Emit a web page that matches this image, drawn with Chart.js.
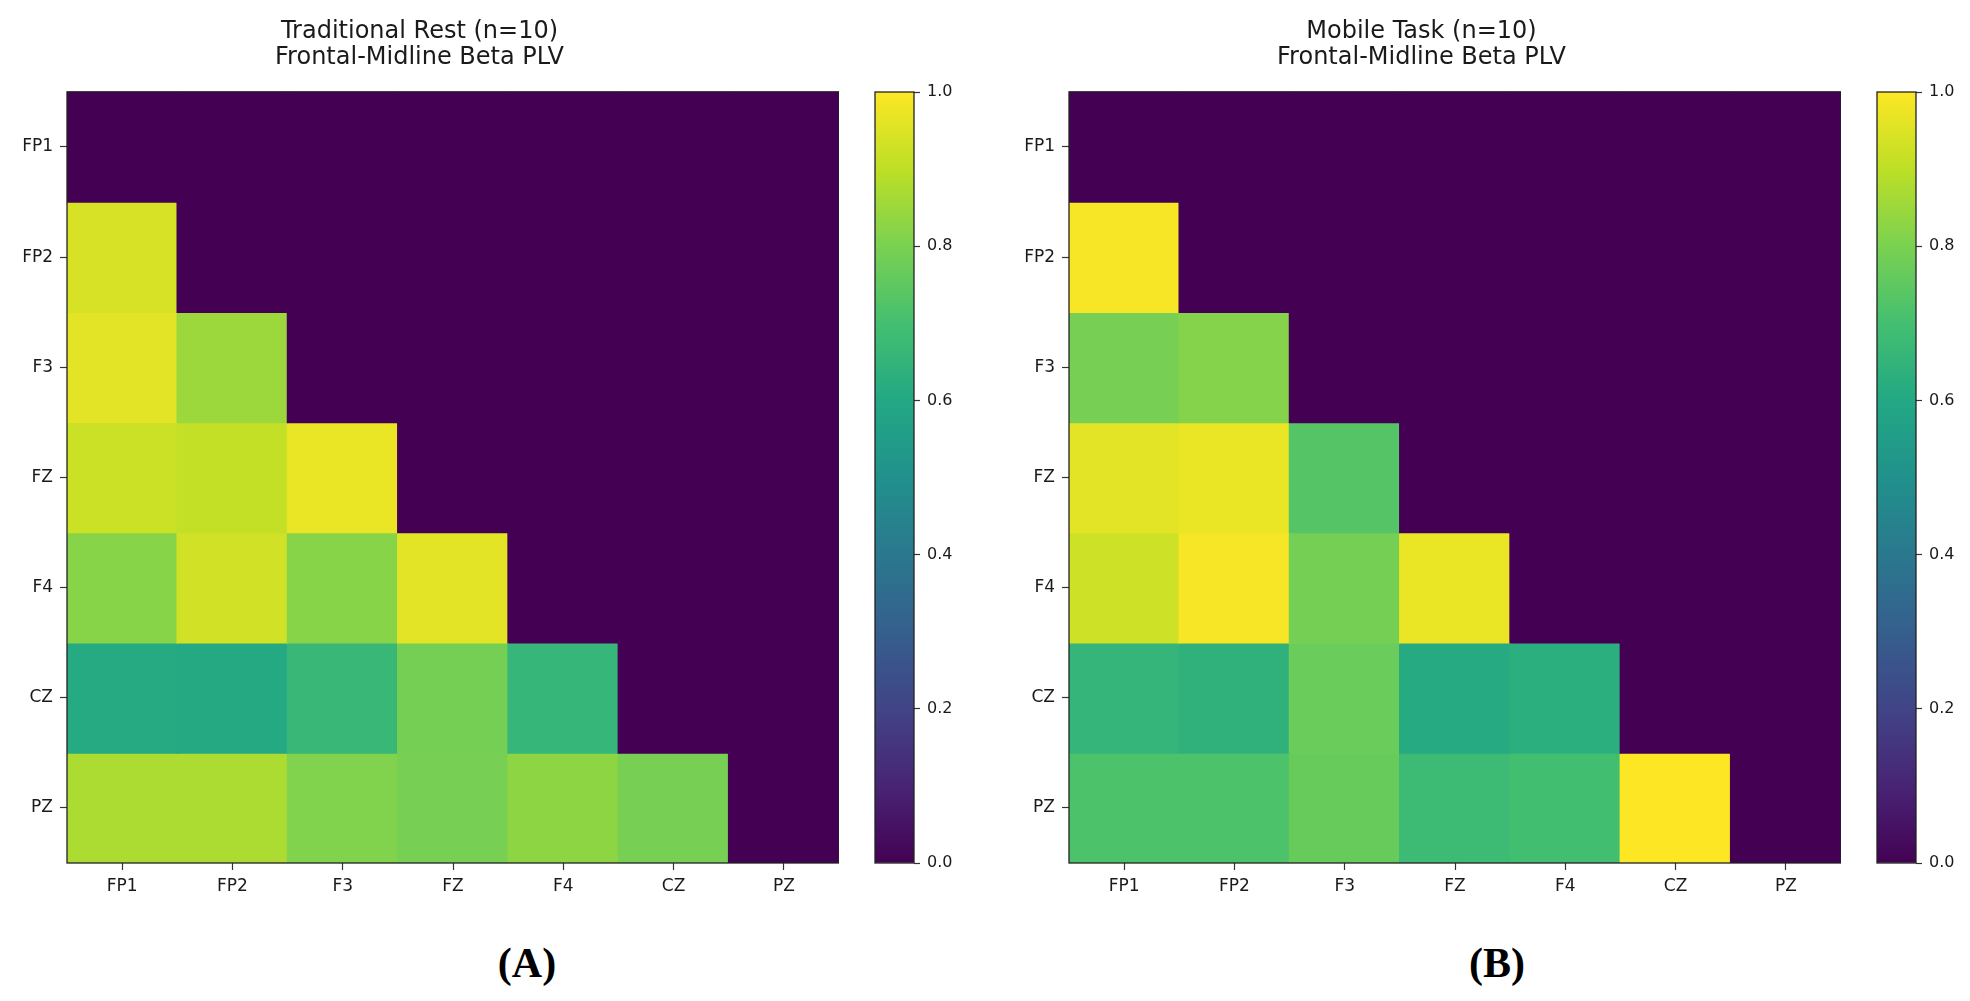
<!DOCTYPE html>
<html>
<head>
<meta charset="utf-8">
<script src="https://cdn.jsdelivr.net/npm/chart.js@4.4.1/dist/chart.umd.min.js"></script>
<style>
  html, body { margin: 0; padding: 0; background: #fff; }
  body { width: 1970px; height: 1001px; position: relative; overflow: hidden; }
  canvas { position: absolute; top: 0; }
  .panel { position: absolute; top: 938px; width: 120px; margin-left: -60px; text-align: center;
           font-family: "Liberation Serif", serif; font-weight: bold; font-size: 42px; color: #000; line-height: 50px; }
</style>
</head>
<body>
<canvas id="restMap" width="839" height="920" style="left:0px"></canvas>
<canvas id="restBar" width="108" height="920" style="left:860px"></canvas>
<canvas id="mobileMap" width="839" height="920" style="left:1002px"></canvas>
<canvas id="mobileBar" width="108" height="920" style="left:1862px"></canvas>
<div class="panel" style="left:527px">(A)</div>
<div class="panel" style="left:1497px">(B)</div>

<script>
// electrode channels, rows top to bottom and columns left to right
const channels = ['FP1', 'FP2', 'F3', 'FZ', 'F4', 'CZ', 'PZ'];

// lower triangle PLV, upper triangle + diagonal masked to 0
const restPLV = [
  [0,     0,     0,     0,     0,     0,     0],
  [0.94,  0,     0,     0,     0,     0,     0],
  [0.96,  0.85,  0,     0,     0,     0,     0],
  [0.92,  0.91,  0.97,  0,     0,     0,     0],
  [0.82,  0.93,  0.82,  0.96,  0,     0,     0],
  [0.61,  0.605, 0.665, 0.79,  0.66,  0,     0],
  [0.875, 0.875, 0.81,  0.795, 0.83,  0.795, 0]
];

const mobilePLV = [
  [0,     0,     0,     0,     0,     0,     0],
  [0.99,  0,     0,     0,     0,     0,     0],
  [0.795, 0.815, 0,     0,     0,     0,     0],
  [0.96,  0.97,  0.73,  0,     0,     0,     0],
  [0.925, 0.99,  0.79,  0.97,  0,     0,     0],
  [0.655, 0.64,  0.77,  0.61,  0.63,  0,     0],
  [0.715, 0.715, 0.765, 0.68,  0.695, 1.0,   0]
];

const restTitle = ['Traditional Rest (n=10)', 'Frontal-Midline Beta PLV'];
const mobileTitle = ['Mobile Task (n=10)', 'Frontal-Midline Beta PLV'];
const colorbarTicks = [0, 0.2, 0.4, 0.6, 0.8, 1.0];

// viridis, 11 samples from 0 to 1
const viridisStops = ['#440154', '#482475', '#414487', '#355f8d', '#2a788e', '#21918c',
                      '#22a884', '#44bf70', '#7ad151', '#bddf26', '#fde725'];

function hexToRgb(h) {
  return [parseInt(h.slice(1, 3), 16), parseInt(h.slice(3, 5), 16), parseInt(h.slice(5, 7), 16)];
}

function viridis(v) {
  const t = Math.min(1, Math.max(0, v)) * (viridisStops.length - 1);
  const i = Math.min(Math.floor(t), viridisStops.length - 2);
  const f = t - i;
  const a = hexToRgb(viridisStops[i]);
  const b = hexToRgb(viridisStops[i + 1]);
  const c = a.map((x, k) => Math.round(x + (b[k] - x) * f));
  return `rgb(${c[0]}, ${c[1]}, ${c[2]})`;
}

const tickFont = { family: 'DejaVu Sans', size: 17 };
const textColor = '#1a1a1a';

// black spine round the plot area, like matplotlib
const framePlugin = {
  id: 'frame',
  afterDatasetsDraw(chart) {
    const { ctx, chartArea: a } = chart;
    ctx.save();
    ctx.strokeStyle = '#222';
    ctx.lineWidth = 1.3;
    ctx.strokeRect(a.left, a.top, a.right - a.left, a.bottom - a.top);
    ctx.restore();
  }
};

function makeHeatmap(id, values, title) {
  // one dataset per row, each cell a floating bar [row, row + 1]
  const datasets = values.map((row, r) => ({
    data: channels.map(() => [r, r + 1]),
    backgroundColor: row.map(v => viridis(v)),
    borderWidth: 0,
    inflateAmount: 0.8,
    barPercentage: 1,
    categoryPercentage: 1
  }));

  new Chart(document.getElementById(id), {
    type: 'bar',
    data: { labels: channels, datasets },
    plugins: [framePlugin],
    options: {
      responsive: false,
      animation: false,
      events: [],
      layout: { padding: 0 },
      plugins: {
        legend: { display: false },
        tooltip: { enabled: false },
        title: {
          display: true,
          text: title,
          color: textColor,
          font: { family: 'DejaVu Sans', size: 24, weight: 'normal', lineHeight: 1.08 },
          padding: { top: 19, bottom: 21 }
        }
      },
      scales: {
        x: {
          type: 'category',
          stacked: true,
          offset: true,
          grid: { display: true, drawOnChartArea: false, offset: false, tickLength: 7, tickColor: '#333', tickWidth: 1.2 },
          border: { display: false },
          ticks: { color: textColor, font: tickFont, padding: 6, maxRotation: 0 },
          afterFit: s => { s.height = 57; }
        },
        y: {
          type: 'linear',
          stacked: false,
          min: 0,
          max: channels.length,
          reverse: true,
          grid: { display: true, drawOnChartArea: false, tickLength: 7, tickColor: '#333', tickWidth: 1.2 },
          border: { display: false },
          afterBuildTicks: s => { s.ticks = channels.map((c, i) => ({ value: i + 0.5 })); },
          ticks: { color: textColor, font: tickFont, padding: 7, callback: (v, i) => channels[i] },
          afterFit: s => { s.width = 67; }
        }
      }
    }
  });
}

function makeColorbar(id) {
  new Chart(document.getElementById(id), {
    type: 'bar',
    data: {
      labels: ['PLV'],
      datasets: [{
        data: [[0, 1]],
        borderWidth: 0,
        barPercentage: 1,
        categoryPercentage: 1,
        backgroundColor: ctx => {
          const a = ctx.chart.chartArea;
          if (!a) return viridisStops[0];
          const g = ctx.chart.ctx.createLinearGradient(0, a.bottom, 0, a.top);
          viridisStops.forEach((c, i) => g.addColorStop(i / (viridisStops.length - 1), c));
          return g;
        }
      }]
    },
    plugins: [framePlugin],
    options: {
      responsive: false,
      animation: false,
      events: [],
      layout: { padding: { left: 15, top: 92, bottom: 57, right: 0 } },
      plugins: { legend: { display: false }, tooltip: { enabled: false } },
      scales: {
        x: { display: false },
        y: {
          position: 'right',
          min: 0,
          max: 1,
          grid: { display: true, drawOnChartArea: false, tickLength: 6, tickColor: '#333', tickWidth: 1.2 },
          border: { display: false },
          afterBuildTicks: s => { s.ticks = colorbarTicks.map(v => ({ value: v })); },
          ticks: { color: textColor, font: { family: 'DejaVu Sans', size: 16 }, padding: 7,
                   callback: v => v.toFixed(1) },
          afterFit: s => { s.width = 54; }
        }
      }
    }
  });
}

makeHeatmap('restMap', restPLV, restTitle);
makeColorbar('restBar');
makeHeatmap('mobileMap', mobilePLV, mobileTitle);
makeColorbar('mobileBar');
</script>
</body>
</html>
